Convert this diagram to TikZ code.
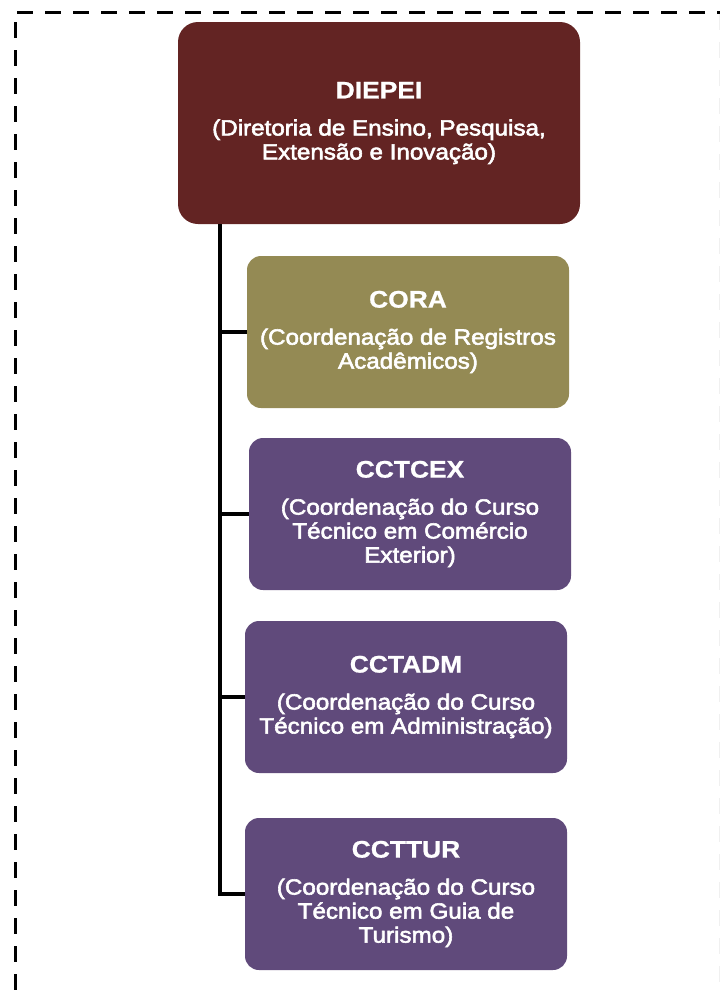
\documentclass[tikz,border=0pt]{standalone}
\usepackage{fontspec}
\newfontfamily\orgfont[FakeStretch=1.1, FakeBold=2.6, BoldFeatures={FakeBold=0.8}]{Liberation Sans}
\usetikzlibrary{positioning, calc}
\definecolor{diepeired}{HTML}{632423}
\definecolor{coraolive}{HTML}{948A54}
\definecolor{cursopurple}{HTML}{604A7B}
\newcommand{\orgtitle}[1]{{\bfseries\fontsize{24}{24}\selectfont #1}\\[13pt]}

\begin{document}
\begin{tikzpicture}[x=1pt, y=-1pt,
	unit/.style={rounded corners=14pt, minimum width=322pt, minimum height=152pt, inner sep=0pt, align=center, text=white, font=\orgfont\fontsize{22}{24}\selectfont},
	curso/.style={unit, fill=cursopurple},
	link/.style={line width=4.5pt},
	frame/.style={line width=3pt, dash pattern=on 16pt off 12pt}]
		\useasboundingbox (0,0) rectangle (720,994);
		\draw[frame] (17,12) -- (720,12); \draw[frame] (15,22) -- (15,994);
		\draw[frame, draw=gray!12, line width=1pt] (719.5,14) -- (719.5,994);
		\node[unit, fill=diepeired, minimum width=402pt, minimum height=202pt, rounded corners=20pt] (diepei) at (379,123) {\orgtitle{DIEPEI}(Diretoria de Ensino, Pesquisa,\\Extensão e Inovação)};
		\node[unit, fill=coraolive] (cora) at (408,332) {\orgtitle{CORA}(Coordenação de Registros\\Acadêmicos)};
		\node[curso] (cctcex) at (410,514) {\orgtitle{CCTCEX}(Coordenação do Curso\\Técnico em Comércio\\Exterior)};
		\node[curso] (cctadm) at (406,697) {\orgtitle{CCTADM}(Coordenação do Curso\\Técnico em Administração)};
		\node[curso] (ccttur) at (406,894) {\orgtitle{CCTTUR}(Coordenação do Curso\\Técnico em Guia de\\Turismo)};
		\coordinate (spine) at ([xshift=42pt]diepei.south west);
		\draw[link] (spine) |- (ccttur.west);
		\foreach \u in {cora, cctcex, cctadm} \draw[link] (spine |- \u.west) -- (\u.west);
	\end{tikzpicture}
\end{document}
